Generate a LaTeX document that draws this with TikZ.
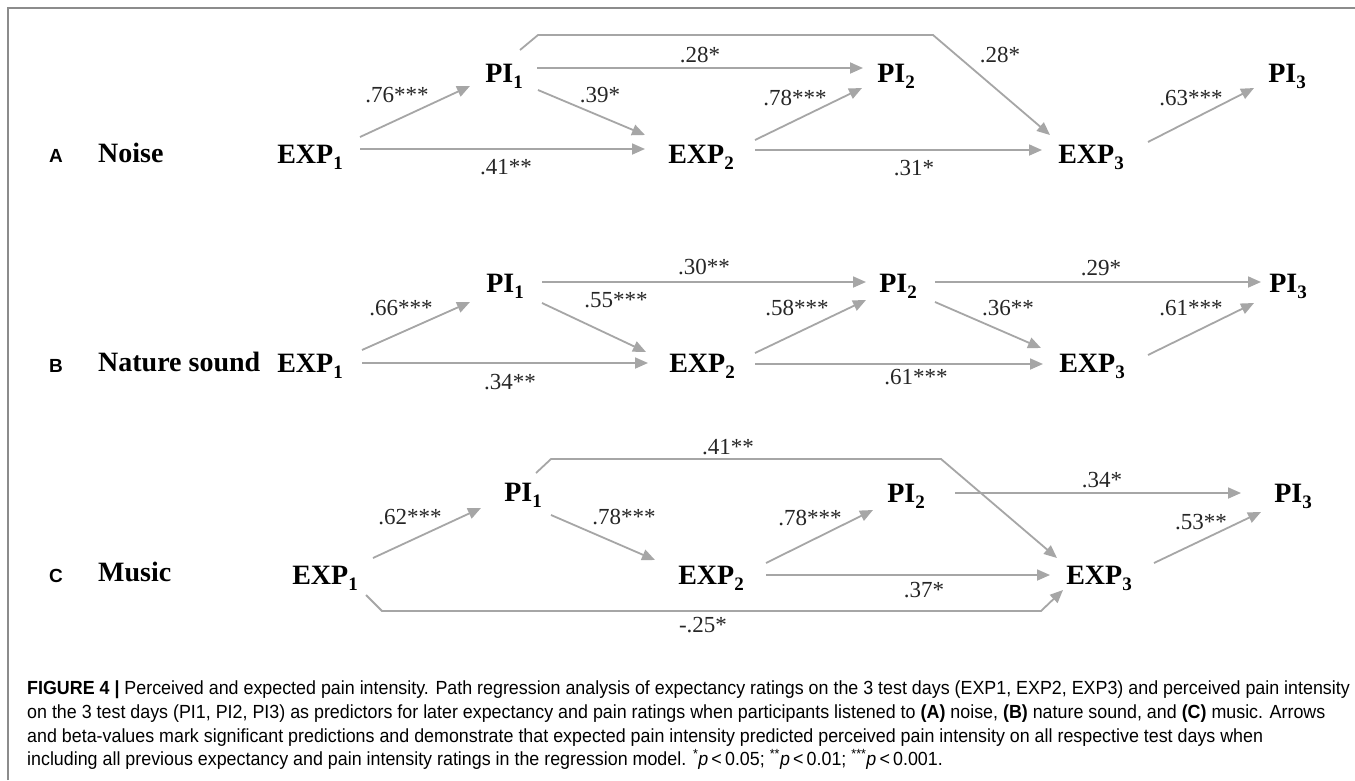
\documentclass[tikz,border=0pt]{standalone}
\usepackage{fontspec}
\setmainfont{Liberation Serif}
\setsansfont{Liberation Sans}
\newfontfamily\capfont[FakeStretch=0.94]{Liberation Sans}
\usetikzlibrary{calc,arrows.meta}
\definecolor{arrgray}{HTML}{A6A6A6}
\definecolor{framegray}{HTML}{8C8C8C}
\newcommand\sbs[1]{\raisebox{-0.22em}{\fontsize{19}{19}\selectfont #1}}
\newcommand\nm[2]{#1\sbs{#2}}
\newcommand\pst[1]{\textsuperscript{#1}\textit{p}\,<\,}
\begin{document}
\begin{tikzpicture}[x=1pt,y=-1pt,
  nd/.style={font=\fontsize{28}{30}\selectfont\bfseries, anchor=base, inner sep=0pt},
  grp/.style={font=\fontsize{28}{30}\selectfont\bfseries, anchor=base west, inner sep=0pt},
  pl/.style={font=\sffamily\bfseries\fontsize{19}{21}\selectfont, anchor=base, inner sep=0pt},
  lb/.style={font=\fontsize{23}{25}\selectfont, inner sep=0pt, text=black!85},
  arr/.style={draw=arrgray, line width=1.8pt, -{Triangle[length=13pt,width=11pt]}},
  captxt/.style={font=\capfont\fontsize{19}{24}\selectfont, anchor=base west, inner sep=0pt}]
\useasboundingbox (0,0) rectangle (1355,780);
\fill[white] (0,0) rectangle (1355,780);
\draw[framegray, line width=1.5pt] (8,780) -- (8,8) -- (1355,8);

% ---------- Panel A ----------
\node[pl] (aL) at (56,162) {A};
\node[grp] (aG) at (98,162) {Noise};
\node[nd] (aE1) at (310,163) {\nm{EXP}{1}};
\node[nd] (aP1) at (504,82) {\nm{PI}{1}};
\node[nd] (aE2) at (701,163) {\nm{EXP}{2}};
\node[nd] (aP2) at (896,82) {\nm{PI}{2}};
\node[nd] (aE3) at (1091,163) {\nm{EXP}{3}};
\node[nd] (aP3) at (1287,82) {\nm{PI}{3}};

\draw[arr] ($(aE1.base)+(50,-26)$) -- ($(aP1.base)+(-34,4)$);
\draw[arr] ($(aE1.base)+(50,-14)$) -- ($(aE2.base)+(-56,-14)$);
\draw[arr] ($(aP1.base)+(33,-14)$) -- ($(aP2.base)+(-33,-14)$);
\draw[arr] ($(aP1.base)+(34,8)$) -- ($(aE2.base)+(-56,-28)$);
\draw[arr] ($(aE2.base)+(54,-23)$) -- ($(aP2.base)+(-34,6)$);
\draw[arr] ($(aE2.base)+(54,-13)$) -- ($(aE3.base)+(-49,-13)$);
\draw[arr] ($(aP1.base)+(16,-32)$) -- ($(aP1.base)+(34,-47)$) -- ($(aE3.base)+(-158,-128)$) -- ($(aE3.base)+(-41,-28)$);
\draw[arr] ($(aE3.base)+(57,-21)$) -- ($(aP3.base)+(-33,6)$);

\node[lb] (aL1) at (397,95) {.76***};
\node[lb] (aL2) at (506,167) {.41**};
\node[lb] (aL3) at (600,95) {.39*};
\node[lb] (aL4) at (700,55) {.28*};
\node[lb] (aL5) at (1000,55) {.28*};
\node[lb] (aL6) at (795,98) {.78***};
\node[lb] (aL7) at (914,168) {.31*};
\node[lb] (aL8) at (1191,98) {.63***};

% ---------- Panel B ----------
\node[pl] (bL) at (56,372) {B};
\node[grp] (bG) at (98,371) {Nature sound};
\node[nd] (bE1) at (310,372) {\nm{EXP}{1}};
\node[nd] (bP1) at (505,292) {\nm{PI}{1}};
\node[nd] (bE2) at (702,372) {\nm{EXP}{2}};
\node[nd] (bP2) at (898,292) {\nm{PI}{2}};
\node[nd] (bE3) at (1092,372) {\nm{EXP}{3}};
\node[nd] (bP3) at (1288,292) {\nm{PI}{3}};

\draw[arr] ($(bE1.base)+(52,-22)$) -- ($(bP1.base)+(-35,10)$);
\draw[arr] ($(bE1.base)+(52,-9)$) -- ($(bE2.base)+(-54,-9)$);
\draw[arr] ($(bP1.base)+(37,-10)$) -- ($(bP2.base)+(-32,-10)$);
\draw[arr] ($(bP1.base)+(37,11)$) -- ($(bE2.base)+(-56,-20)$);
\draw[arr] ($(bE2.base)+(53,-19)$) -- ($(bP2.base)+(-32,8)$);
\draw[arr] ($(bE2.base)+(53,-8)$) -- ($(bE3.base)+(-49,-8)$);
\draw[arr] ($(bP2.base)+(37,-10)$) -- ($(bP3.base)+(-27,-10)$);
\draw[arr] ($(bP2.base)+(37,10)$) -- ($(bE3.base)+(-51,-24)$);
\draw[arr] ($(bE3.base)+(56,-17)$) -- ($(bP3.base)+(-34,11)$);

\node[lb] (bL1) at (401,308) {.66***};
\node[lb] (bL2) at (616,300) {.55***};
\node[lb] (bL3) at (510,382) {.34**};
\node[lb] (bL4) at (704,267) {.30**};
\node[lb] (bL5) at (797,308) {.58***};
\node[lb] (bL6) at (916,377) {.61***};
\node[lb] (bL7) at (1101,268) {.29*};
\node[lb] (bL8) at (1008,308) {.36**};
\node[lb] (bL9) at (1191,308) {.61***};

% ---------- Panel C ----------
\node[pl] (cL) at (56,582) {C};
\node[grp] (cG) at (98,581) {Music};
\node[nd] (cE1) at (325,584) {\nm{EXP}{1}};
\node[nd] (cP1) at (523,501) {\nm{PI}{1}};
\node[nd] (cE2) at (711,584) {\nm{EXP}{2}};
\node[nd] (cP2) at (906,502) {\nm{PI}{2}};
\node[nd] (cE3) at (1099,584) {\nm{EXP}{3}};
\node[nd] (cP3) at (1293,502) {\nm{PI}{3}};

\draw[arr] ($(cE1.base)+(48,-26)$) -- ($(cP1.base)+(-42,7)$);
\draw[arr] ($(cP1.base)+(28,14)$) -- ($(cE2.base)+(-56,-24)$);
\draw[arr] ($(cP1.base)+(13,-28)$) -- ($(cP1.base)+(28,-42)$) -- ($(cE3.base)+(-158,-125)$) -- ($(cE3.base)+(-42,-26)$);
\draw[arr] ($(cE1.base)+(41,11)$) -- ($(cE1.base)+(57,27)$) -- ($(cE3.base)+(-58,27)$) -- ($(cE3.base)+(-36,6)$);
\draw[arr] ($(cE2.base)+(55,-21)$) -- ($(cP2.base)+(-33,8)$);
\draw[arr] ($(cE2.base)+(55,-9)$) -- ($(cE3.base)+(-49,-9)$);
\draw[arr] ($(cP2.base)+(49,-9)$) -- ($(cP3.base)+(-52,-9)$);
\draw[arr] ($(cE3.base)+(55,-21)$) -- ($(cP3.base)+(-32,10)$);

\node[lb] (cL1) at (410,517) {.62***};
\node[lb] (cL2) at (624,517) {.78***};
\node[lb] (cL3) at (728,447) {.41**};
\node[lb] (cL4) at (1102,480) {.34*};
\node[lb] (cL5) at (810,518) {.78***};
\node[lb] (cL6) at (924,590) {.37*};
\node[lb] (cL7) at (1201,522) {.53**};
\node[lb] (cL8) at (703,625) {-.25*};

% ---------- Caption ----------
\node[captxt] (cap1) at (27,694) {\textbf{FIGURE 4 |} Perceived and expected pain intensity. Path regression analysis of expectancy ratings on the 3 test days (EXP1, EXP2, EXP3) and perceived pain intensity};
\node[captxt] (cap2) at (27,718) {on the 3 test days (PI1, PI2, PI3) as predictors for later expectancy and pain ratings when participants listened to \textbf{(A)} noise, \textbf{(B)} nature sound, and \textbf{(C)} music. Arrows};
\node[captxt] (cap3) at (27,742) {and beta-values mark significant predictions and demonstrate that expected pain intensity predicted perceived pain intensity on all respective test days when};
\node[captxt] (cap4) at (27,765) {including all previous expectancy and pain intensity ratings in the regression model. \pst{*}0.05; \pst{**}0.01; \pst{***}0.001.};
\end{tikzpicture}
\end{document}
